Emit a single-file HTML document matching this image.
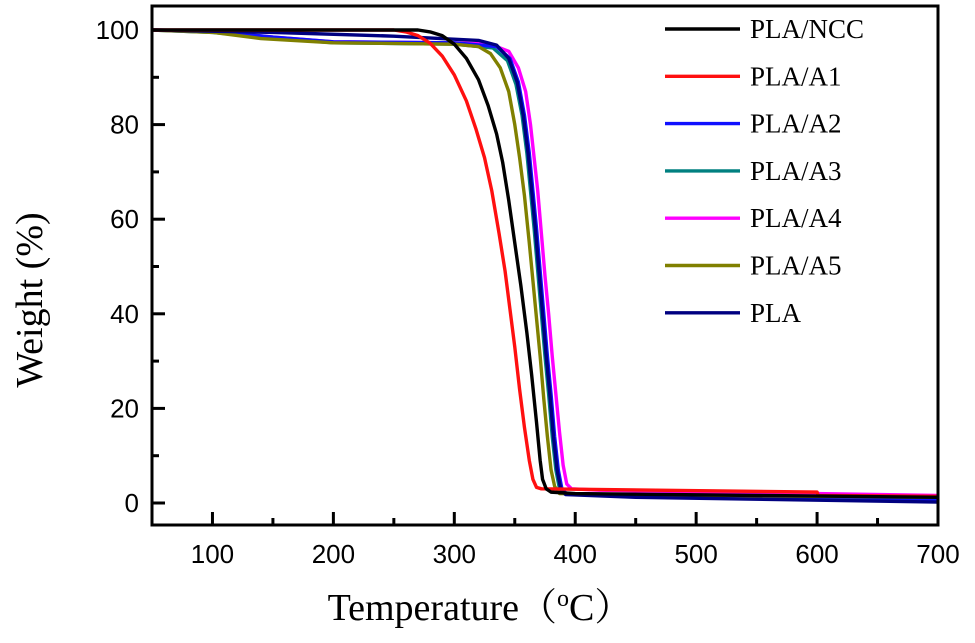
<!DOCTYPE html>
<html><head><meta charset="utf-8"><style>
html,body{margin:0;padding:0;background:#fff;}
svg{display:block;}
</style></head><body>
<svg id="chart" width="975" height="643" viewBox="0 0 975 643" xmlns="http://www.w3.org/2000/svg">
<g id="plot"></g>
<g id="axes"></g>
<g id="legend"></g>
<text transform="translate(42,300) rotate(-90)" text-anchor="middle" font-family="Liberation Serif, serif" font-size="38">Weight (%)</text>
<text x="480" y="620" text-anchor="middle" font-family="Liberation Serif, 'Noto Serif CJK SC', serif" font-size="38">Temperature（<tspan font-size="24" dy="-14">o</tspan><tspan dy="14">C</tspan>）</text>
</svg>
<script>
const seriesNames = ["PLA/NCC","PLA/A1","PLA/A2","PLA/A3","PLA/A4","PLA/A5","PLA"];
const seriesColors = ["#000000","#ff1010","#1010ff","#008080","#ff00ff","#808000","#000080"];
const xTicks = [100,200,300,400,500,600,700];
const yTicks = [0,20,40,60,80,100];
const dataNCC = [[50,100],[270,100],[280,99.6],[290,98.8],[300,97],[310,94],[320,89.5],[328,84],[335,78],[340,72],[345,64],[350,55],[355,46],[360,36],[364,27],[368,17],[371,9],[373,5],[376,3],[380,2.3],[400,2],[700,1.2]];
const dataA1 = [[50,100],[250,100],[260,99.6],[270,98.8],[280,97.2],[290,94.5],[300,90.5],[310,85],[318,79],[325,73],[331,66],[337,57],[342,49],[346,41],[350,33],[354,24],[358,16],[362,9],[365,5],[368,3.3],[372,3],[600,2.3],[601,1.6],[700,1.4]];
const dataA2 = [[50,100],[100,99.8],[150,98.5],[200,97.5],[300,97.3],[335,96.5],[346,94],[353,89],[358,82],[362,74],[365,66],[368,58],[371,49],[374,40],[377,31],[380,23],[383,14],[386,7],[389,3],[393,1.9],[450,1.4],[700,0.8]];
const dataA3 = [[50,100],[100,99.5],[150,98.3],[200,97.3],[300,97],[332,96.2],[344,93.5],[351,88.5],[356,82],[360,74],[363,66],[366,58],[369,49],[372,40],[375,31],[378,23],[381,14],[384,7],[387,3],[391,2],[450,1.6],[700,1]];
const dataA4 = [[50,100],[100,99.7],[150,98.5],[200,97.5],[300,97.3],[330,97],[345,95.5],[353,92],[359,87],[363,80],[366,73],[369,66],[372,57],[375,48],[378,40],[381,31],[384,23],[387,15],[390,8],[393,4],[397,3],[420,2.7],[700,1.6]];
const dataA5 = [[50,100],[100,99.5],[140,98.2],[200,97.3],[300,97],[320,96.5],[330,95],[338,92],[345,87],[350,80],[354,73],[358,65],[362,55],[365,47],[368,39],[371,31],[374,22],[377,14],[380,7],[383,3.5],[387,2],[450,1.7],[700,1.2]];
const dataPLA = [[50,100],[150,99.5],[250,98.7],[320,97.8],[335,96.8],[345,94],[352,89],[357,82],[361,74],[364,66],[367,58],[370,49],[373,40],[376,31],[379,23],[382,14],[385,7],[388,3],[392,1.8],[450,1.2],[700,0.2]];
const allData = [dataNCC,dataA1,dataA2,dataA3,dataA4,dataA5,dataPLA];

const NS="http://www.w3.org/2000/svg";
const L=152,R=938,T=6,B=525;
const xMin=50,xMax=700;
function xs(v){return L+(v-xMin)/(xMax-xMin)*(R-L);}
function ys(v){return 503-(v/100)*473;}
function mk(tag,attrs,parent){const e=document.createElementNS(NS,tag);for(const k in attrs)e.setAttribute(k,attrs[k]);parent.appendChild(e);return e;}
const plot=document.getElementById('plot'),axes=document.getElementById('axes'),legend=document.getElementById('legend');
const order=[4,3,2,5,6,1,0];
order.forEach(i=>{
  const d=allData[i].map((p,j)=>(j?'L':'M')+xs(p[0]).toFixed(2)+','+ys(p[1]).toFixed(2)).join(' ');
  const p=mk('path',{d:d,fill:'none',stroke:seriesColors[i],'stroke-width':3.4,'stroke-linejoin':'round'},plot);
  
  
});
const fr=mk('rect',{x:L,y:T,width:R-L,height:B-T,fill:'none',stroke:'#000','stroke-width':3},axes);


xTicks.forEach(v=>{
  const x=xs(v);
  const t=mk('line',{x1:x,x2:x,y1:B,y2:B-13,stroke:'#000','stroke-width':3},axes);
  
  
  const m=xs(v-50);
  if(v-50>xMin){const mt=mk('line',{x1:m,x2:m,y1:B,y2:B-7,stroke:'#000','stroke-width':3},axes);
  
  }
  const lb=mk('text',{x:x,y:563,'text-anchor':'middle','font-family':'Liberation Sans, sans-serif','font-size':26},axes);
  lb.textContent=v;
  
  
});
yTicks.forEach(v=>{
  const y=ys(v);
  const t=mk('line',{x1:L,x2:L+13,y1:y,y2:y,stroke:'#000','stroke-width':3},axes);
  
  
  if(v<100){const m=ys(v+10);const mt=mk('line',{x1:L,x2:L+7,y1:m,y2:m,stroke:'#000','stroke-width':3},axes);
  
  }
  const lb=mk('text',{x:139,y:y+9,'text-anchor':'end','font-family':'Liberation Sans, sans-serif','font-size':26},axes);
  lb.textContent=v;
  
  
});
seriesNames.forEach((n,i)=>{
  const y=29+i*47.3;
  const g=mk('g',{},legend);
  
  
  mk('line',{x1:665,x2:740,y1:y,y2:y,stroke:seriesColors[i],'stroke-width':3.4},g);
  const t=mk('text',{x:750,y:y+9,'font-family':'Liberation Serif, serif','font-size':27},g);
  t.textContent=n;
});
</script>
</body></html>
